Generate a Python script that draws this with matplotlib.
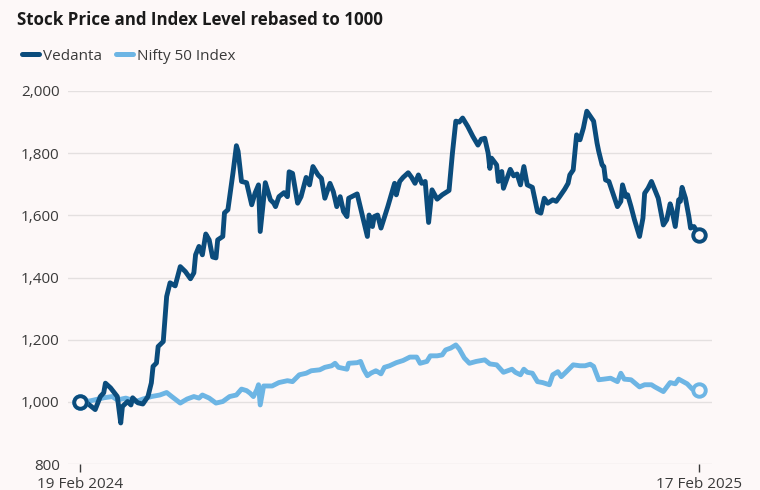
import matplotlib
matplotlib.use("Agg")
import matplotlib.pyplot as plt
from matplotlib.lines import Line2D
import pandas as pd

plt.rcParams['font.family'] = ['Open Sans', 'DejaVu Sans']

title = "Stock Price and Index Level rebased to 1000"
series_names = ["Vedanta", "Nifty 50 Index"]
start_date = "2024-02-19"
end_date = "2025-02-17"
x_tick_labels = ["19 Feb 2024", "17 Feb 2025"]
y_ticks = [800, 1000, 1200, 1400, 1600, 1800, 2000]

# day offsets from 19 Feb 2024 and rebased values
vedanta_days = [0, 4, 9, 12, 14, 15, 18, 22, 24, 25, 28, 30, 31, 34, 37, 40, 42, 43, 45, 46,
                49, 51, 53, 56, 59, 62, 65, 67, 68, 70, 72, 74, 76, 78, 80, 81, 84, 85, 87, 90,
                92, 93, 95, 98, 101, 103, 105, 106, 109, 112, 114, 115, 117, 120, 122, 123, 125,
                128, 130, 133, 135, 137, 140, 142, 144, 147, 149, 151, 153, 155, 157, 158, 163,
                166, 169, 170, 172, 173, 175, 177, 181, 185, 186, 188, 190, 193, 195, 197, 199,
                201, 203, 205, 207, 210, 213, 217, 219, 221, 223, 225, 228, 231, 234, 236, 238,
                240, 241, 242, 245, 246, 248, 249, 253, 255, 257, 259, 261, 263, 266, 269, 271,
                273, 275, 278, 280, 282, 285, 287, 288, 290, 292, 294, 296, 298, 300, 302, 304,
                305, 307, 308, 309, 311, 314, 316, 318, 319, 321, 322, 324, 326, 329, 331, 332,
                334, 336, 338, 340, 343, 345, 347, 348, 350, 352, 353, 354, 356, 358, 359, 361, 364]
vedanta_vals = [1000, 997, 975, 1017, 1029, 1060, 1045, 1017, 932, 985, 1001, 990, 1013, 997, 993,
                1017, 1061, 1114, 1125, 1178, 1194, 1339, 1383, 1373, 1435, 1419, 1396, 1415, 1473,
                1500, 1473, 1540, 1521, 1466, 1463, 1521, 1532, 1608, 1618, 1737, 1824, 1806, 1709,
                1705, 1634, 1672, 1698, 1548, 1705, 1650, 1639, 1628, 1660, 1673, 1660, 1740, 1735,
                1639, 1660, 1722, 1698, 1757, 1730, 1719, 1655, 1703, 1676, 1628, 1660, 1612, 1596,
                1655, 1669, 1601, 1532, 1601, 1564, 1596, 1601, 1559, 1628, 1703, 1666, 1709, 1722,
                1737, 1722, 1703, 1730, 1703, 1709, 1577, 1682, 1652, 1666, 1680, 1800, 1903, 1900,
                1913, 1886, 1854, 1826, 1845, 1848, 1800, 1751, 1784, 1762, 1709, 1741, 1687, 1748,
                1727, 1733, 1698, 1757, 1698, 1690, 1612, 1607, 1655, 1639, 1650, 1645, 1660, 1684,
                1703, 1730, 1746, 1859, 1843, 1881, 1935, 1919, 1903, 1833, 1806, 1762, 1757, 1714,
                1709, 1660, 1628, 1645, 1698, 1660, 1666, 1628, 1586, 1532, 1591, 1671, 1687, 1709,
                1682, 1655, 1569, 1586, 1637, 1618, 1564, 1650, 1645, 1690, 1655, 1596, 1559, 1564,
                1537]

nifty_days = [0, 6, 14, 19, 22, 27, 33, 37, 42, 47, 51, 54, 59, 63, 67, 70, 72, 76, 80, 84, 88,
              92, 95, 98, 100, 102, 104, 105, 106, 108, 113, 117, 122, 125, 129, 133, 136, 141,
              144, 148, 150, 152, 157, 158, 163, 165, 167, 169, 171, 174, 175, 177, 179, 182, 186,
              190, 194, 198, 200, 204, 206, 210, 213, 215, 218, 221, 223, 226, 229, 233, 238, 241,
              245, 249, 254, 256, 259, 261, 263, 266, 269, 272, 276, 278, 281, 283, 286, 290, 294,
              297, 300, 302, 305, 308, 312, 316, 318, 320, 324, 329, 332, 336, 338, 343, 347, 350,
              352, 357, 360, 364]
nifty_vals = [1000, 1003, 1013, 1017, 1006, 1012, 1001, 1009, 1017, 1022, 1030, 1017, 996, 1009,
              1017, 1012, 1022, 1012, 996, 1001, 1017, 1022, 1041, 1036, 1028, 1017, 1039, 1055,
              990, 1051, 1051, 1062, 1068, 1065, 1087, 1092, 1100, 1103, 1111, 1116, 1124, 1111,
              1105, 1124, 1126, 1130, 1103, 1084, 1092, 1100, 1097, 1090, 1111, 1116, 1126, 1133,
              1144, 1144, 1124, 1130, 1148, 1148, 1151, 1167, 1173, 1183, 1170, 1141, 1124, 1130,
              1135, 1122, 1119, 1095, 1105, 1095, 1087, 1105, 1095, 1092, 1065, 1062, 1055, 1087,
              1097, 1081, 1097, 1119, 1116, 1116, 1121, 1114, 1071, 1073, 1076, 1065, 1092, 1073,
              1071, 1048, 1055, 1055, 1048, 1033, 1062, 1058, 1073, 1058, 1041, 1039]

colors = ["#0b4c7c", "#6db5e4"]
bg = "#fdf8f8"
txt = "#3a3a3a"

t0 = pd.Timestamp(start_date)
t1 = pd.Timestamp(end_date)
ved_dates = t0 + pd.to_timedelta(vedanta_days, unit="D")
nif_dates = t0 + pd.to_timedelta(nifty_days, unit="D")

fig = plt.figure(figsize=(7.6, 4.9), dpi=100, facecolor=bg)
ax = fig.add_axes([68/760, 1-464/490, (712-68)/760, (464-91)/490])
ax.set_facecolor(bg)

ax.plot(nif_dates, nifty_vals, color=colors[1], lw=3.5, solid_joinstyle="round",
        solid_capstyle="round", zorder=3)
ax.plot(ved_dates, vedanta_vals, color=colors[0], lw=3.5, solid_joinstyle="round",
        solid_capstyle="round", zorder=4)
for d, v, c in [(nif_dates, nifty_vals, colors[1]), (ved_dates, vedanta_vals, colors[0])]:
    ax.plot([d[0], d[-1]], [v[0], v[-1]], ls="none", marker="o", ms=9, mfc=bg,
            mec=c, mew=2.8, zorder=5)

ax.set_xlim(t0 - pd.Timedelta(days=7), t1 + pd.Timedelta(days=7.6))
ax.set_ylim(800, 2000)
ax.set_yticks(y_ticks)
ax.set_yticklabels([f"{v:,}" for v in y_ticks])
ax.grid(axis="y", color="#e4e0e0", lw=1)
ax.set_axisbelow(True)
for s in ax.spines.values():
    s.set_visible(False)
ax.tick_params(axis="y", length=0, pad=6, labelsize=11, labelcolor=txt)
ax.set_xticks([t0, t1])
ax.set_xticklabels(x_tick_labels)
ax.tick_params(axis="x", length=6, width=1, color=txt, pad=3, labelsize=11,
               labelcolor=txt, direction="out")

fig.text(17/760, 1-20/490, title, fontsize=12.2, fontweight="bold", color="#1a1a1a",
         va="center", ha="left")

handles = [Line2D([0], [0], color=c, lw=3.6, solid_capstyle="round") for c in colors]
leg = fig.legend(handles, series_names, loc="center left", bbox_to_anchor=(8/760, 1-56/490),
                 frameon=False, ncol=2, handlelength=1.1, handletextpad=0.3,
                 columnspacing=0.9, fontsize=11)
for t in leg.get_texts():
    t.set_color(txt)

fig.savefig("out.png", dpi=100, facecolor=bg)
